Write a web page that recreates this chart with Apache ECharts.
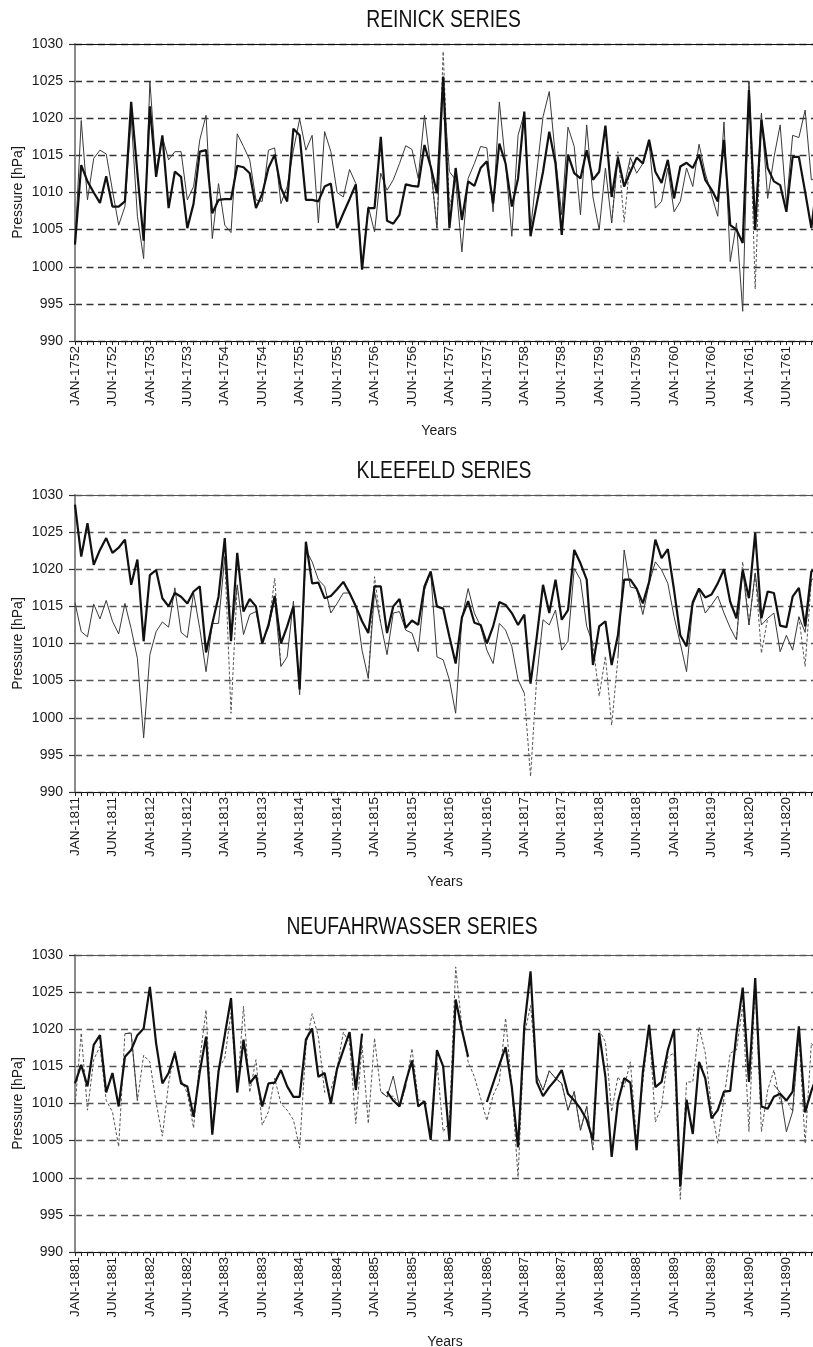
<!DOCTYPE html>
<html>
<head>
<meta charset="utf-8">
<script src="https://cdn.jsdelivr.net/npm/echarts@6/dist/echarts.min.js"></script>
<style>
  html, body { margin: 0; padding: 0; background: #fff; overflow: hidden; }
  #chart { width: 830px; height: 1347px; }
</style>
</head>
<body>
<div id="chart"></div>
<script>
// Monthly mean pressure (hPa), 120 months per station series.
// A = thick solid, B = thin solid, C = dashed comparison series (null = not drawn).

const reinickTicks = ['JAN-1752','JUN-1752','JAN-1753','JUN-1753','JAN-1754','JUN-1754','JAN-1755','JUN-1755','JAN-1756','JUN-1756',
                      'JAN-1757','JUN-1757','JAN-1758','JUN-1758','JAN-1759','JUN-1759','JAN-1760','JUN-1760','JAN-1761','JUN-1761'];
const kleefeldTicks = ['JAN-1811','JUN-1811','JAN-1812','JUN-1812','JAN-1813','JUN-1813','JAN-1814','JUN-1814','JAN-1815','JUN-1815',
                       'JAN-1816','JUN-1816','JAN-1817','JUN-1817','JAN-1818','JUN-1818','JAN-1819','JUN-1819','JAN-1820','JUN-1820'];
const neufTicks = ['JAN-1881','JUN-1881','JAN-1882','JUN-1882','JAN-1883','JUN-1883','JAN-1884','JUN-1884','JAN-1885','JUN-1885',
                   'JAN-1886','JUN-1886','JAN-1887','JUN-1887','JAN-1888','JUN-1888','JAN-1889','JUN-1889','JAN-1890','JUN-1890'];

const reinickA = [
  1003.0,1013.7,1011.5,1010.0,1008.6,1012.2,1008.1,1008.1,1008.8,1022.2,1012.6,1003.5,
  1021.6,1012.1,1017.7,1007.9,1012.8,1012.1,1005.2,1008.5,1015.5,1015.7,1007.2,1009.0,
  1009.1,1009.1,1013.6,1013.4,1012.6,1007.9,1009.8,1013.3,1015.1,1010.6,1008.8,1018.6,
  1017.7,1009.0,1009.0,1008.8,1010.8,1011.2,1005.2,1007.2,1009.1,1011.1,999.6,1007.9,
  1007.9,1017.5,1006.2,1005.8,1007.0,1011.1,1010.9,1010.8,1016.4,1013.5,1009.9,1025.6,
  1005.2,1013.3,1006.3,1011.5,1010.9,1013.3,1014.2,1008.5,1016.6,1013.9,1008.1,1011.9,
  1020.9,1004.1,1008.5,1012.8,1018.2,1013.9,1004.3,1015.1,1012.6,1011.9,1015.7,1011.7,
  1012.8,1019.0,1009.4,1014.7,1010.8,1012.8,1014.7,1013.9,1017.1,1012.8,1011.3,1014.4,
  1009.2,1013.5,1014.0,1013.3,1015.1,1011.7,1010.4,1008.8,1017.1,1005.6,1005.0,1003.2,
  1023.8,1005.0,1019.8,1013.3,1011.5,1011.0,1007.4,1014.8,1014.8,1010.1,1005.2,1012.0
];
const reinickB = [
  1003.0,1019.7,1009.0,1014.6,1015.7,1015.2,1010.3,1005.6,1008.1,1020.2,1006.8,1001.1,
  1025.0,1013.0,1017.5,1014.4,1015.5,1015.5,1009.0,1010.8,1017.1,1020.4,1003.8,1011.2,
  1005.6,1004.6,1017.9,1016.2,1014.4,1009.0,1008.8,1015.7,1016.0,1008.5,1010.8,1015.7,
  1019.9,1015.7,1017.7,1005.9,1018.2,1015.5,1010.0,1009.4,1013.1,1011.2,1000.0,1008.1,
  1004.7,1012.6,1010.3,1011.7,1013.9,1016.3,1015.8,1011.9,1020.4,1013.5,1005.2,1024.5,
  1012.8,1011.7,1002.0,1011.9,1013.9,1016.2,1016.0,1007.4,1022.2,1013.9,1004.1,1017.7,
  1020.7,1005.0,1012.8,1020.2,1023.6,1014.7,1007.0,1018.8,1016.2,1007.0,1019.1,1009.4,
  1005.0,1013.3,1005.9,1014.7,1010.8,1014.7,1012.6,1013.9,1016.6,1007.9,1008.8,1013.3,
  1007.4,1008.8,1013.3,1010.8,1016.5,1012.6,1009.7,1006.8,1019.5,1000.7,1005.9,994.0,
  1025.0,1006.0,1020.7,1009.2,1014.7,1019.1,1008.3,1017.7,1017.4,1021.1,1011.7,1012.0
];
const reinickC = [
  null,null,null,null,null,null,null,null,null,null,null,null,
  null,null,null,null,null,null,null,null,null,null,null,null,
  null,null,null,null,null,null,null,null,null,null,null,null,
  null,null,null,null,null,null,null,null,null,null,null,null,
  null,null,null,null,null,null,null,null,null,1013.5,1005.2,1029.0,
  1008.0,1011.7,null,null,null,null,null,null,null,null,null,null,
  null,null,null,null,null,null,null,null,null,null,null,null,
  null,null,1005.9,1015.5,1006.0,1014.7,null,null,null,null,null,null,
  null,null,null,null,null,null,null,null,null,null,null,null,
  1025.0,997.0,1020.7,null,null,null,null,null,null,null,null,null
];

const kleefeldA = [
  1028.7,1021.7,1026.2,1020.6,1022.6,1024.2,1022.2,1022.9,1024.0,1017.9,1021.3,1010.3,
  1019.2,1019.9,1016.1,1015.0,1016.8,1016.3,1015.4,1017.0,1017.7,1008.8,1012.7,1016.3,
  1024.2,1010.3,1022.2,1014.3,1016.0,1015.0,1010.0,1012.5,1016.4,1010.0,1012.3,1015.0,
  1003.8,1023.7,1018.1,1018.2,1016.1,1016.4,1017.3,1018.3,1016.8,1015.0,1013.0,1011.4,
  1017.7,1017.7,1011.4,1015.0,1016.0,1012.1,1013.1,1012.5,1017.7,1019.7,1015.0,1014.7,
  1010.9,1007.3,1013.5,1015.7,1012.8,1012.5,1010.0,1012.3,1015.6,1015.2,1014.1,1012.5,
  1013.9,1004.6,1010.9,1017.9,1014.1,1018.6,1013.2,1014.5,1022.6,1020.8,1018.6,1007.1,
  1012.3,1013.0,1007.1,1011.1,1018.6,1018.6,1017.4,1015.4,1018.3,1024.0,1021.5,1022.7,
  1017.2,1011.1,1009.6,1015.6,1017.4,1016.2,1016.6,1018.1,1020.0,1015.6,1013.4,1019.9,
  1016.1,1024.9,1013.4,1017.0,1016.8,1012.4,1012.2,1016.3,1017.5,1012.3,1019.7,1020.2
];
const kleefeldB = [
  1015.5,1011.6,1010.9,1015.3,1013.3,1015.8,1013.0,1011.3,1015.4,1012.0,1008.0,997.3,
  1008.5,1011.6,1012.9,1012.2,1017.5,1011.5,1010.8,1016.8,1012.0,1006.2,1012.7,1012.7,
  1021.7,1010.5,1017.9,1011.2,1013.9,1014.3,1010.3,1012.1,1016.0,1006.9,1008.2,1015.7,
  1003.1,1022.6,1021.0,1018.6,1017.7,1014.1,1015.4,1016.8,1016.8,1015.2,1009.1,1005.3,
  1017.0,1012.7,1008.5,1014.1,1014.3,1011.8,1011.4,1008.9,1017.2,1019.6,1008.2,1007.8,
  1005.1,1000.6,1013.4,1017.4,1014.1,1012.3,1009.1,1007.3,1012.7,1011.8,1009.6,1005.1,
  1003.3,null,1005.5,1013.2,1012.5,1014.5,1009.1,1010.3,1020.1,1018.6,1012.3,1010.0,
  null,1008.3,null,1008.0,1022.6,1017.6,1017.4,1013.9,1018.1,1021.0,1019.9,1018.1,
  1013.6,1010.0,1006.2,1015.2,1017.2,1014.1,1015.2,1016.4,1014.1,1012.1,1010.5,1020.0,
  1012.5,1019.5,1012.5,1013.4,1014.1,1008.9,1011.1,1009.1,1013.6,1011.5,1018.6,1019.0
];
const kleefeldC = [
  null,null,null,null,null,null,null,null,null,null,null,null,
  null,null,null,null,null,null,null,null,null,null,null,null,
  1021.7,1000.6,1017.9,null,null,null,null,1012.1,1018.8,1006.9,null,null,
  null,null,null,null,null,null,null,null,null,null,null,1005.3,
  1019.0,1012.7,null,null,null,null,null,null,null,null,null,null,
  null,null,null,null,null,null,null,null,null,null,null,null,
  1003.3,992.1,1005.5,null,null,null,null,null,null,null,null,1010.0,
  1002.9,1008.3,999.0,1008.0,null,null,null,null,null,null,null,null,
  null,null,null,null,null,null,null,null,null,null,1010.5,1021.0,
  1012.5,1019.5,1008.7,1013.4,null,null,null,null,1013.6,1006.9,1018.6,null
];

const neufA = [
  1012.7,1015.2,1012.3,1017.9,1019.2,1011.5,1014.1,1009.6,1016.3,1017.2,1019.2,1020.1,
  1025.7,1018.1,1012.7,1014.1,1016.8,1012.7,1012.3,1008.2,1014.3,1019.0,1005.8,1014.3,
  1019.2,1024.2,1011.5,1018.6,1012.7,1013.8,1009.6,1012.7,1012.8,1014.5,1012.3,1010.9,
  1010.9,1018.6,1020.1,1013.6,1014.1,1010.0,1014.7,1017.2,1019.6,1011.8,1019.4,null,
  null,null,1011.6,1010.4,1009.6,1012.9,1015.8,1009.6,1010.3,1005.1,1017.2,1015.0,
  1005.0,1024.0,1019.9,1016.3,null,null,1010.2,1012.7,1015.2,1017.6,1012.2,1004.1,
  1020.4,1027.8,1012.9,1011.0,1012.2,1013.2,1014.5,1011.3,1010.4,1009.3,1007.8,1005.1,
  1019.5,1013.6,1002.8,1010.2,1013.4,1012.8,1003.7,1014.3,1020.6,1012.2,1012.9,1017.2,
  1020.0,998.8,1010.5,1005.9,1015.6,1013.4,1008.0,1009.1,1011.6,1011.7,1019.4,1025.6,
  1012.9,1026.9,1009.6,1009.3,1010.9,1011.3,1010.4,1011.6,1020.4,1008.8,1011.7,1014.0
];
const neufB = [
  null,null,null,null,null,null,null,null,1019.4,1019.5,1010.4,null,
  null,null,null,null,null,null,null,null,null,null,null,null,
  null,null,null,null,null,null,null,null,null,null,null,null,
  null,null,null,null,null,null,null,null,null,null,null,null,
  null,1011.6,1010.9,1013.7,1009.6,1012.3,null,null,null,null,null,null,
  null,null,null,null,null,null,null,null,null,null,null,null,
  null,null,1013.8,1011.8,1014.4,1013.4,1012.7,1009.1,1011.6,1006.4,1009.6,1003.7,
  null,null,null,null,null,null,null,null,null,null,null,null,
  null,null,null,null,null,null,null,null,null,null,null,null,
  null,null,null,null,1012.5,1011.5,1006.2,1008.9,1019.5,null,null,null
];
const neufC = [
  1009.6,1019.5,1009.1,1015.9,1017.7,1010.4,1008.9,1004.2,1019.4,1019.5,1010.4,1016.5,
  1015.6,1010.1,1005.6,1012.7,1017.2,1013.2,1011.4,1006.7,1015.9,1022.6,1006.2,1014.7,
  1016.1,1022.2,1011.5,1023.1,1011.5,1015.9,1007.1,1008.9,1013.4,1010.0,1009.1,1007.8,
  1004.0,1017.7,1022.1,1019.0,1011.5,1011.9,1014.7,1019.6,1018.1,1007.3,1017.9,1007.3,
  1018.8,1011.6,1010.9,1011.0,1009.6,1012.3,1017.4,1010.5,1010.3,1005.1,1015.6,1006.2,
  1007.5,1028.4,1020.3,1015.6,1013.6,1010.7,1007.7,1011.1,1012.9,1021.5,1012.2,1000.1,
  1019.2,1023.2,1013.8,1011.8,1014.4,1013.4,1012.7,1009.1,1011.6,1006.4,1009.6,1003.7,
  1019.9,1018.3,1008.9,1013.6,1012.2,1015.6,1005.0,1012.9,1020.6,1007.5,1009.6,1016.3,
  1016.8,997.1,1012.9,1012.9,1020.3,1016.8,1009.4,1004.6,1010.7,1016.8,1017.2,1023.2,
  1006.2,1026.2,1006.2,1011.8,1014.5,1010.2,1010.4,1008.9,1019.5,1004.6,1018.1,1017.0
];

// month index along each category axis
const months = Array.from({ length: reinickA.length }, (_, i) => String(i));

const panels = [
  { title: 'REINICK SERIES',       ticks: reinickTicks,  a: reinickA,  b: reinickB,  c: reinickC },
  { title: 'KLEEFELD SERIES',      ticks: kleefeldTicks, a: kleefeldA, b: kleefeldB, c: kleefeldC },
  { title: 'NEUFAHRWASSER SERIES', ticks: neufTicks,     a: neufA,     b: neufB,     c: neufC }
];

// page layout of the three stacked panels
const frames = [
  { top: 44,  titleX: 443.5, titleY: 21,  yearsX: 439 },
  { top: 495, titleX: 444,   titleY: 472, yearsX: 445 },
  { top: 955, titleX: 412,   titleY: 928, yearsX: 445 }
];
const PLOT_H = 297;
const FONT = '"Liberation Sans", Arial, sans-serif';

const grid = [], xAxis = [], yAxis = [], series = [], graphic = [];

panels.forEach((p, k) => {
  const f = frames[k];
  grid.push({ left: 75, right: 12.4, top: f.top, height: PLOT_H, containLabel: false });

  xAxis.push({
    gridIndex: k, type: 'category', boundaryGap: false, data: months,
    axisLine: { show: true, lineStyle: { color: '#111', width: 1 } },
    axisTick: { show: true, interval: 0, length: 4, lineStyle: { color: '#222', width: 1 } },
    axisLabel: {
      interval: 5, rotate: 90, margin: 5, fontSize: 13.5, color: '#1a1a1a', fontFamily: FONT,
      formatter: (v, idx) => p.ticks[idx / 6] || ''
    },
    splitLine: { show: false }
  });
  // solid frame line along the top of the plot
  xAxis.push({
    gridIndex: k, type: 'category', boundaryGap: false, data: months, position: 'top',
    axisLine: { show: true, lineStyle: { color: k === 0 ? '#111' : '#555', width: 1.2 } },
    axisTick: { show: false }, axisLabel: { show: false }, splitLine: { show: false }
  });

  yAxis.push({
    gridIndex: k, type: 'value', min: 990, max: 1030, interval: 5,
    axisLine: { show: true, lineStyle: { color: '#8a8a8a', width: 2 } },
    axisTick: { show: true, length: 6, lineStyle: { color: '#333', width: 1.2 } },
    axisLabel: { fontSize: 14, color: '#1a1a1a', margin: 12, fontFamily: FONT, formatter: v => String(v) },
    splitLine: { show: true, lineStyle: { color: k === 0 ? '#333' : '#555', width: 1.3, type: [7, 4.5] } }
  });

  const xi = k * 2;
  series.push({
    type: 'line', xAxisIndex: xi, yAxisIndex: k, data: p.c, symbol: 'none', connectNulls: false,
    lineStyle: { color: '#555', width: 1, type: [3, 2] }, z: 2, animation: false
  });
  series.push({
    type: 'line', xAxisIndex: xi, yAxisIndex: k, data: p.b, symbol: 'none', connectNulls: false,
    lineStyle: { color: '#3a3a3a', width: 1 }, z: 3, animation: false
  });
  series.push({
    type: 'line', xAxisIndex: xi, yAxisIndex: k, data: p.a, symbol: 'none', connectNulls: false,
    lineStyle: { color: '#111', width: 2.2 }, z: 4, animation: false
  });

  graphic.push({
    type: 'text', x: f.titleX, y: f.titleY, scaleX: 0.84,
    style: { text: p.title, font: '23px ' + FONT, fill: '#111', align: 'center', verticalAlign: 'middle' }
  });
  graphic.push({
    type: 'text', x: 18, y: f.top + PLOT_H / 2, rotation: Math.PI / 2,
    style: { text: 'Pressure [hPa]', font: '14px ' + FONT, fill: '#1a1a1a', align: 'center', verticalAlign: 'middle' }
  });
  graphic.push({
    type: 'text', x: f.yearsX, y: f.top + 387,
    style: { text: 'Years', font: '14px ' + FONT, fill: '#1a1a1a', align: 'center', verticalAlign: 'middle' }
  });
});

const chart = echarts.init(document.getElementById('chart'), null, { renderer: 'canvas' });
chart.setOption({
  animation: false,
  backgroundColor: '#fff',
  grid, xAxis, yAxis, series, graphic
});
</script>
</body>
</html>
